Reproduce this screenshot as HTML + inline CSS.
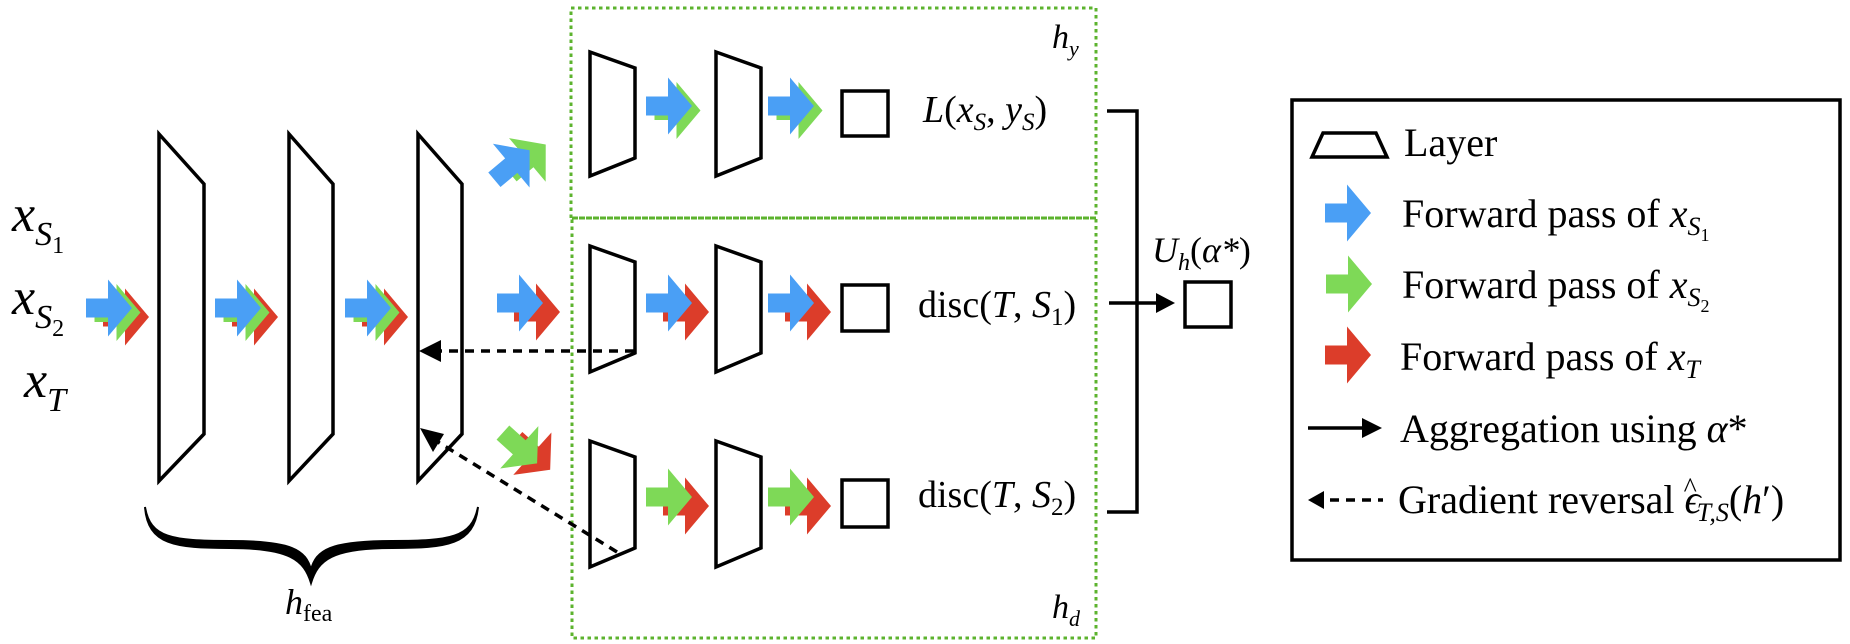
<!DOCTYPE html>
<html><head><meta charset="utf-8"><style>
html,body{margin:0;padding:0;background:#fff}
svg{display:block}
text{font-family:"Liberation Serif","Times New Roman","DejaVu Serif",serif;fill:#000}
.i{font-style:italic}
</style></head><body>
<svg width="1850" height="644" viewBox="0 0 1850 644" xmlns="http://www.w3.org/2000/svg">
<defs>
<path id="ar" d="M0,-9.5 H22 V-28.5 L46,0 L22,28.5 V9.5 H0 Z"/>
<g id="bgr"><use href="#ar" x="17" y="9" fill="#dc3d2a"/><use href="#ar" x="8.5" y="4.5" fill="#7ed957"/><use href="#ar" fill="#4a9ff5"/></g>
<g id="bg"><use href="#ar" x="8.5" y="4.5" fill="#7ed957"/><use href="#ar" fill="#4a9ff5"/></g>
<g id="br"><use href="#ar" x="17" y="9" fill="#dc3d2a"/><use href="#ar" fill="#4a9ff5"/></g>
<g id="gr"><use href="#ar" x="17" y="9" fill="#dc3d2a"/><use href="#ar" fill="#7ed957"/></g>
</defs>

<!-- inputs -->
<text x="12" y="231" font-size="52" class="i">x<tspan font-size="34" dy="14">S</tspan><tspan font-size="24" dy="8" font-style="normal">1</tspan></text>
<text x="12" y="314" font-size="52" class="i">x<tspan font-size="34" dy="14">S</tspan><tspan font-size="24" dy="8" font-style="normal">2</tspan></text>
<text x="24" y="397" font-size="52" class="i">x<tspan font-size="34" dy="14">T</tspan></text>

<!-- big layers -->
<g fill="none" stroke="#000" stroke-width="3.5">
<path d="M159,134 L204,184 V434 L159,481 Z"/>
<path d="M289,134 L333,184 V434 L289,481 Z"/>
<path d="M418,134 L462,184 V434 L418,481 Z"/>
</g>
<use href="#bgr" x="86" y="308"/>
<use href="#bgr" x="215" y="308"/>
<use href="#bgr" x="345" y="308"/>
<use href="#br" x="497" y="303"/>

<!-- diagonal arrows -->
<g transform="translate(512,165) rotate(-40)"><use href="#ar" x="-23" transform="translate(16,6)" fill="#7ed957"/><use href="#ar" x="-23" fill="#4a9ff5"/></g>
<g transform="translate(520,448) rotate(42)"><use href="#ar" x="-23" transform="translate(14,-4)" fill="#dc3d2a"/><use href="#ar" x="-23" fill="#7ed957"/></g>

<!-- green dotted boxes -->
<g fill="none" stroke="#5cb32e" stroke-width="3" stroke-dasharray="3.5 3.5">
<rect x="571" y="8" width="525" height="210"/>
<rect x="572" y="218" width="524" height="420"/>
</g>

<!-- small layers -->
<g fill="none" stroke="#000" stroke-width="3.5">
<path d="M590,52 L635,68 V158 L590,176 Z"/>
<path d="M716,52 L761,68 V158 L716,176 Z"/>
<path d="M590,246 L635,262 V353 L590,372 Z"/>
<path d="M716,246 L761,262 V353 L716,372 Z"/>
<path d="M590,441 L635,457 V548 L590,567 Z"/>
<path d="M716,441 L761,457 V548 L716,567 Z"/>
<rect x="842" y="91" width="46" height="45"/>
<rect x="842" y="285" width="46" height="46"/>
<rect x="842" y="480" width="46" height="47"/>
</g>
<use href="#bg" x="646" y="106"/>
<use href="#bg" x="768" y="106"/>
<use href="#br" x="646" y="303"/>
<use href="#br" x="768" y="303"/>
<use href="#gr" x="646" y="497"/>
<use href="#gr" x="768" y="497"/>

<!-- dashed gradient arrows -->
<g stroke="#000" stroke-width="3.5" stroke-dasharray="9 7" fill="none">
<line x1="634" y1="351" x2="436" y2="351"/>
<line x1="617" y1="552" x2="438" y2="442"/>
</g>
<path d="M419,351 L441,340 L441,362 Z"/>
<path d="M420,428 L444,434 L433,452 Z"/>

<!-- labels -->
<text x="923" y="122" font-size="38" class="i">L<tspan font-style="normal">(</tspan>x<tspan font-size="25" dy="8">S</tspan><tspan dy="-8" font-style="normal">, </tspan>y<tspan font-size="25" dy="8">S</tspan><tspan dy="-8" font-style="normal">)</tspan></text>
<text x="918" y="317" font-size="38">disc(<tspan class="i">T</tspan>, <tspan class="i">S</tspan><tspan font-size="25" dy="8">1</tspan><tspan dy="-8">)</tspan></text>
<text x="918" y="507" font-size="38">disc(<tspan class="i">T</tspan>, <tspan class="i">S</tspan><tspan font-size="25" dy="8">2</tspan><tspan dy="-8">)</tspan></text>
<text x="1052" y="48" font-size="34" class="i">h<tspan font-size="22" dy="8">y</tspan></text>
<text x="1052" y="618" font-size="34" class="i">h<tspan font-size="22" dy="8">d</tspan></text>

<!-- brace -->
<path d="M145,507 C148,545 175,548 230,548 C290,548 304,560 311,583 C318,560 332,548 392,548 C447,548 474,545 478,507 C472,538 450,541 392,541 C330,541 316,550 311,570 C306,550 292,541 230,541 C172,541 150,538 145,507 Z" fill="#000" stroke="#000" stroke-width="2"/>
<text x="285" y="614" font-size="36" class="i">h<tspan font-size="24" dy="7" font-style="normal">fea</tspan></text>

<!-- bracket & aggregation -->
<path d="M1107,111 H1137 V512 H1107" fill="none" stroke="#000" stroke-width="3.5"/>
<line x1="1109" y1="303" x2="1160" y2="303" stroke="#000" stroke-width="3.5"/>
<path d="M1175,303 L1156,293 L1156,313 Z"/>
<rect x="1185" y="282" width="46" height="45" fill="none" stroke="#000" stroke-width="3.5"/>
<text x="1152" y="262" font-size="36" class="i">U<tspan font-size="24" dy="8">h</tspan><tspan dy="-8" font-style="normal">(</tspan>α*<tspan font-style="normal">)</tspan></text>

<!-- legend -->
<rect x="1292" y="100" width="548" height="460" fill="none" stroke="#000" stroke-width="3.5"/>
<path d="M1312,157 L1323,133 H1376 L1387,157 Z" fill="none" stroke="#000" stroke-width="3.5"/>
<text x="1404" y="156" font-size="40">Layer</text>
<use href="#ar" x="1325" y="213" fill="#4a9ff5"/>
<use href="#ar" x="1326" y="284" fill="#7ed957"/>
<use href="#ar" x="1325" y="355" fill="#dc3d2a"/>
<text x="1402" y="227" font-size="40">Forward pass of <tspan class="i">x</tspan><tspan class="i" font-size="26" dy="8">S</tspan><tspan font-size="18" dy="6">1</tspan></text>
<text x="1402" y="298" font-size="40">Forward pass of <tspan class="i">x</tspan><tspan class="i" font-size="26" dy="8">S</tspan><tspan font-size="18" dy="6">2</tspan></text>
<text x="1400" y="370" font-size="40">Forward pass of <tspan class="i">x</tspan><tspan class="i" font-size="26" dy="8">T</tspan></text>
<line x1="1308" y1="428" x2="1366" y2="428" stroke="#000" stroke-width="3.5"/>
<path d="M1382,428 L1362,418 L1362,438 Z"/>
<text x="1400" y="442" font-size="40">Aggregation using <tspan class="i">α</tspan>*</text>
<path d="M1308,500 L1324,491 L1324,509 Z"/>
<line x1="1330" y1="500" x2="1383" y2="500" stroke="#000" stroke-width="3.5" stroke-dasharray="9 7"/>
<text x="1398" y="513" font-size="40">Gradient reversal <tspan class="i">ϵ</tspan><tspan dx="-17" dy="-16" font-size="28">^</tspan><tspan class="i" font-size="26" dx="0" dy="24">T,S</tspan><tspan dy="-8">(</tspan><tspan class="i">h</tspan>′)</text>
</svg>
</body></html>
